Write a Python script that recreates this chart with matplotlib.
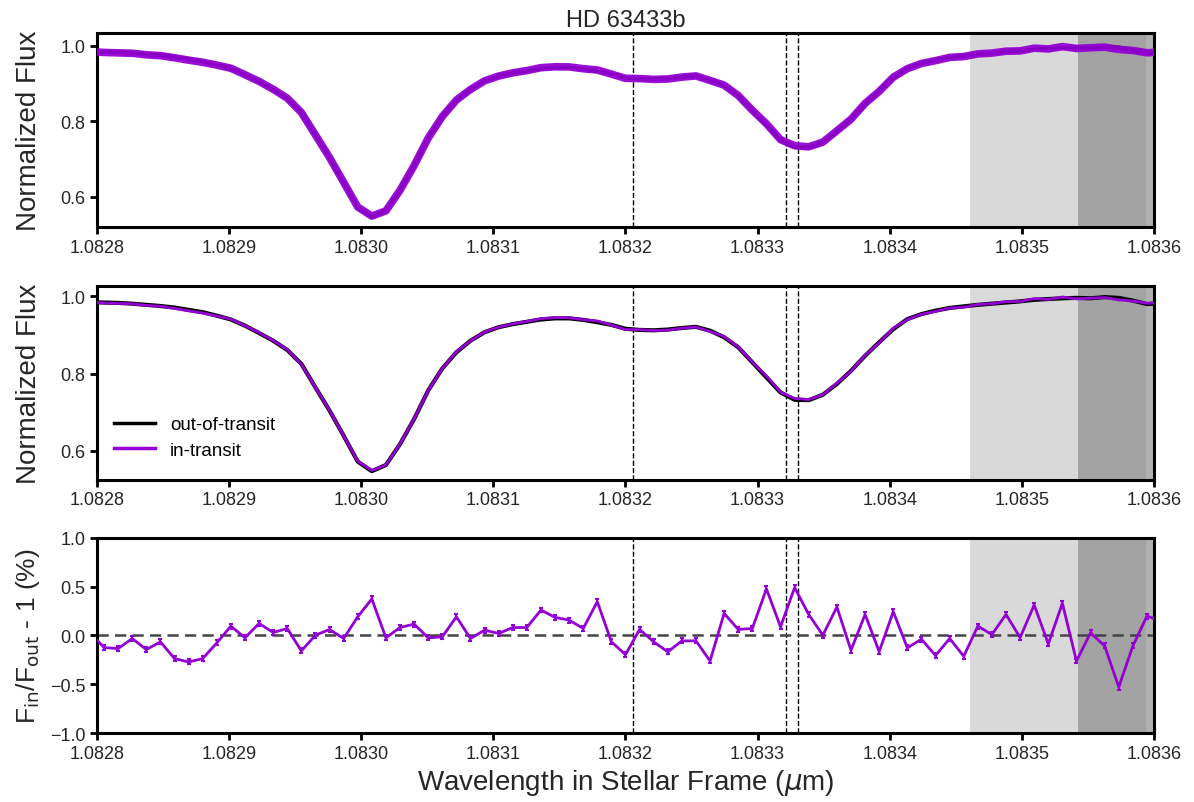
import matplotlib
matplotlib.use("Agg")
import matplotlib.pyplot as plt
import numpy as np

plt.rcParams['font.family'] = ['Liberation Sans', 'DejaVu Sans']

# wavelength grid (micron, stellar frame)
wave = [1.08279470, 1.08280537, 1.08281603, 1.08282670, 1.08283736, 1.08284803,
        1.08285870, 1.08286936, 1.08288003, 1.08289070, 1.08290136, 1.08291203,
        1.08292269, 1.08293336, 1.08294403, 1.08295469, 1.08296536, 1.08297603,
        1.08298669, 1.08299736, 1.08300802, 1.08301869, 1.08302936, 1.08304002,
        1.08305069, 1.08306135, 1.08307202, 1.08308269, 1.08309335, 1.08310402,
        1.08311469, 1.08312535, 1.08313602, 1.08314668, 1.08315735, 1.08316802,
        1.08317868, 1.08318935, 1.08320001, 1.08321068, 1.08322135, 1.08323201,
        1.08324268, 1.08325335, 1.08326401, 1.08327468, 1.08328534, 1.08329601,
        1.08330668, 1.08331734, 1.08332801, 1.08333867, 1.08334934, 1.08336001,
        1.08337067, 1.08338134, 1.08339201, 1.08340267, 1.08341334, 1.08342400,
        1.08343467, 1.08344534, 1.08345600, 1.08346667, 1.08347733, 1.08348800,
        1.08349867, 1.08350933, 1.08352000, 1.08353067, 1.08354133, 1.08355200,
        1.08356266, 1.08357333, 1.08358400, 1.08359466, 1.08360533]

# out-of-transit normalized flux
flux_out = [0.985, 0.984, 0.983, 0.981, 0.978, 0.975, 0.971, 0.965, 0.959, 0.950,
            0.940, 0.924, 0.905, 0.885, 0.861, 0.825, 0.764, 0.704, 0.639, 0.572,
            0.547, 0.563, 0.617, 0.682, 0.756, 0.813, 0.855, 0.885, 0.907, 0.920,
            0.928, 0.934, 0.940, 0.943, 0.943, 0.939, 0.933, 0.926, 0.916, 0.913,
            0.912, 0.914, 0.918, 0.921, 0.911, 0.894, 0.868, 0.829, 0.790, 0.751,
            0.732, 0.731, 0.745, 0.773, 0.807, 0.846, 0.881, 0.915, 0.941, 0.954,
            0.963, 0.970, 0.974, 0.978, 0.981, 0.984, 0.987, 0.991, 0.993, 0.995,
            0.996, 0.995, 0.998, 0.996, 0.989, 0.980, 0.982]

# F_in/F_out - 1 in percent
ratio = [0.03,
         -0.124, -0.134, -0.031, -0.144, -0.065, -0.237, -0.271, -0.237, -0.076,
         0.096, -0.024, 0.124, 0.031, 0.072, -0.158, 0.003, 0.062,
         -0.031, 0.192, 0.375, -0.024, 0.082, 0.117, -0.024, -0.014, 0.192,
         -0.031, 0.055, 0.021, 0.082, 0.082, 0.261, 0.186, 0.158, 0.072, 0.347,
         -0.065, -0.196, 0.062, -0.065, -0.168, -0.055, -0.055, -0.261, 0.227,
         0.062, 0.072, 0.478, 0.089, 0.491, 0.216, 0.003, 0.292, -0.151, 0.216,
         -0.165,
         0.244, -0.127, -0.038, -0.206, -0.031, -0.213, 0.096, 0.010, 0.216,
         -0.021, 0.313, -0.086, 0.330, -0.261, 0.027, -0.107, -0.529, -0.107,
         0.199, 0.15]
ratio_err = 0.025

# He I triplet (vacuum, micron)
he_lines = [1.0832057, 1.0833217, 1.0833306]
# masked regions: (start, end, colour)
masks = [(1.0834607, 1.0835425, '#d9d9d9'),
         (1.0835425, 1.0835937, '#a3a3a3'),
         (1.0835937, 1.0836, '#b0b0b0')]
xticks = [1.0828, 1.0829, 1.0830, 1.0831, 1.0832, 1.0833, 1.0834, 1.0835, 1.0836]

wave = np.array(wave)
flux_out = np.array(flux_out)
flux_in = flux_out * (1 + np.array(ratio) / 100.)

purple = '#9400D3'
txt = '#262626'

fig = plt.figure(figsize=(11.94, 8.03), dpi=100)
ax1 = fig.add_axes([0.0812, 0.716, 0.8853, 0.2415])
ax2 = fig.add_axes([0.0812, 0.4014, 0.8853, 0.2408])
ax3 = fig.add_axes([0.0812, 0.0859, 0.8853, 0.2429])


def style(ax):
    for a, b, c in masks:
        ax.axvspan(a, b, color=c, lw=0, zorder=0)
    for w in he_lines:
        ax.axvline(w, color='k', ls='--', lw=1.0, zorder=1)
    ax.set_xlim(1.0828, 1.0836)
    ax.set_xticks(xticks)
    ax.set_xticklabels(['%.4f' % t for t in xticks])
    for s in ax.spines.values():
        s.set_linewidth(2.2)
    ax.tick_params(direction='out', length=5, width=2, labelsize=13,
                   colors='k', labelcolor=txt)


# top: all spectra
style(ax1)
ax1.plot(wave, flux_out, color='k', lw=2.8, zorder=2)
ax1.plot(wave, flux_in, color=purple, lw=5.5, alpha=0.95, zorder=3)
ax1.set_ylim(0.52, 1.034)
ax1.set_yticks([0.6, 0.8, 1.0])
ax1.set_ylabel('Normalized Flux', fontsize=20, color=txt)
ax1.set_title('HD 63433b', fontsize=17, color=txt, pad=5)

# middle: mean spectra
style(ax2)
ax2.plot(wave, flux_out, color='k', lw=3, label='out-of-transit', zorder=2)
ax2.plot(wave, flux_in, color=purple, lw=2, label='in-transit', zorder=3)
ax2.set_ylim(0.525, 1.026)
ax2.set_yticks([0.6, 0.8, 1.0])
ax2.set_ylabel('Normalized Flux', fontsize=20, color=txt)
leg = ax2.legend(loc='lower left', frameon=False, fontsize=13.5,
                 handlelength=2.2, labelspacing=0.45, bbox_to_anchor=(0.0, 0.02))
for h in leg.legend_handles:
    h.set_linewidth(2.5)

# bottom: ratio
style(ax3)
ax3.axhline(0, color='#444444', ls=(0, (4.5, 2.5)), lw=1.8, zorder=1)
ax3.errorbar(wave, ratio, yerr=ratio_err, color=purple, lw=2, elinewidth=1.5,
             capsize=1.5, capthick=1.5, zorder=3)
ax3.set_ylim(-1, 1)
ax3.set_yticks([-1.0, -0.5, 0.0, 0.5, 1.0])
ax3.set_ylabel(r'F$_{\rm in}$/F$_{\rm out}$ - 1 (%)', fontsize=19, color=txt)
ax3.set_xlabel(r'Wavelength in Stellar Frame ($\mu$m)', fontsize=20, color=txt)

for ax in (ax1, ax2, ax3):
    ax.yaxis.set_label_coords(-0.052, 0.5)

fig.savefig('out.png', dpi=100)
